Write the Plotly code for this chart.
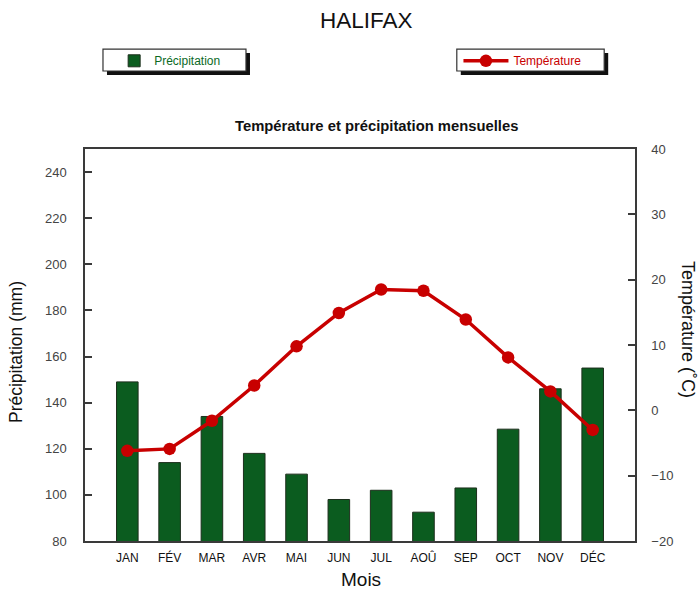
import plotly.graph_objects as go

months = ["JAN", "FÉV", "MAR", "AVR", "MAI", "JUN", "JUL", "AOÛ", "SEP", "OCT", "NOV", "DÉC"]
precip_mm = [149, 114, 134, 118, 109, 98, 102, 92.5, 103, 128.5, 146, 155]
temp_c = [-6.2, -5.9, -1.6, 3.8, 9.8, 14.9, 18.5, 18.3, 13.9, 8.1, 2.9, -3.0]

left_ticks = [80, 100, 120, 140, 160, 180, 200, 220, 240]
right_ticks = [-20, -10, 0, 10, 20, 30, 40]

FONT = "Liberation Sans, Arial, sans-serif"
GREEN = "#0b5c1f"
RED = "#c80000"

x_idx = list(range(len(months)))

fig = go.Figure()
fig.add_trace(go.Bar(
    x=x_idx, y=precip_mm, name="Précipitation",
    marker=dict(color=GREEN, line=dict(color="#1c2e1c", width=1)),
    legend="legend", yaxis="y",
))
fig.add_trace(go.Scatter(
    x=x_idx, y=temp_c, name="Température", mode="lines+markers",
    line=dict(color=RED, width=3.5),
    marker=dict(color=RED, size=12.5),
    legend="legend2", yaxis="y2",
))

axis_line = "#3a3a3a"
fig.update_layout(
    width=700, height=593,
    margin=dict(l=85, r=65, t=149, b=52, autoexpand=False),
    paper_bgcolor="white", plot_bgcolor="white",
    font=dict(family=FONT, color="#222"),
    bargap=0.49,
    showlegend=True,
    xaxis=dict(
        range=[-1, 12], tickvals=x_idx, ticktext=months,
        showgrid=False, zeroline=False, ticks="", automargin=False,
        ticklabelstandoff=5,
        showline=True, linecolor=axis_line, linewidth=1.5, mirror=True,
        tickfont=dict(size=12, color="#111"),
    ),
    yaxis=dict(
        range=[80, 250], tickvals=left_ticks, automargin=False,
        showgrid=False, zeroline=False,
        ticks="inside", ticklen=7, tickcolor=axis_line, tickwidth=1.5,
        ticklabelstandoff=14,
        showline=True, linecolor=axis_line, linewidth=1.5,
        tickfont=dict(size=13, color="#444"),
    ),
    yaxis2=dict(
        range=[-20, 40], tickvals=right_ticks, overlaying="y", side="right",
        showgrid=False, zeroline=False, automargin=False,
        ticks="inside", ticklen=7, tickcolor=axis_line, tickwidth=1.5,
        ticklabelstandoff=12,
        showline=True, linecolor=axis_line, linewidth=1.5,
        tickfont=dict(size=13, color="#444"),
    ),
    legend=dict(
        x=0.053, y=1.225, xanchor="left", yanchor="middle",
        bgcolor="rgba(0,0,0,0)", borderwidth=0,
        font=dict(size=12, color="#0b6a1f", family=FONT),
    ),
    legend2=dict(
        x=0.679, y=1.225, xanchor="left", yanchor="middle",
        bgcolor="rgba(0,0,0,0)", borderwidth=0, itemwidth=45,
        font=dict(size=12, color=RED, family=FONT),
    ),
)

# legend boxes with drop shadows
boxes = [(0.0327, 0.2927), (0.676, 0.944)]
y0, y1 = 1.199, 1.255
dx, dy = 4 / 550, 4 / 392
shapes = []
for bx0, bx1 in boxes:
    shapes.append(dict(type="rect", xref="paper", yref="paper",
                       x0=bx0 + dx, x1=bx1 + dx, y0=y0 - dy, y1=y1 - dy,
                       fillcolor="#111", line=dict(width=0), layer="below"))
    shapes.append(dict(type="rect", xref="paper", yref="paper",
                       x0=bx0, x1=bx1, y0=y0, y1=y1,
                       fillcolor="white", line=dict(color="#333", width=1.2), layer="below"))
fig.update_layout(shapes=shapes)

def px_x(px):
    return (px - 85) / 550

def px_y(py):
    return (541 - py) / 392

fig.add_annotation(text="HALIFAX", xref="paper", yref="paper", x=px_x(366), y=px_y(20),
                   showarrow=False, font=dict(size=22.5, color="#111", family=FONT), yanchor="middle")
fig.add_annotation(text="<b>Température et précipitation mensuelles</b>", xref="paper", yref="paper",
                   x=px_x(376), y=px_y(126), showarrow=False,
                   font=dict(size=14.8, color="#111", family=FONT), yanchor="middle")
fig.add_annotation(text="Précipitation (mm)", xref="paper", yref="paper",
                   x=px_x(16), y=px_y(352), textangle=-90, showarrow=False,
                   font=dict(size=17.5, color="#111", family=FONT), xanchor="center", yanchor="middle")
fig.add_annotation(text="Température (˚C)", xref="paper", yref="paper",
                   x=px_x(688), y=px_y(329), textangle=90, showarrow=False,
                   font=dict(size=18, color="#111", family=FONT), xanchor="center", yanchor="middle")
fig.add_annotation(text="Mois", xref="paper", yref="paper",
                   x=px_x(361), y=px_y(579), showarrow=False,
                   font=dict(size=19, color="#111", family=FONT), xanchor="center", yanchor="middle")

fig.write_html("out.html", config={"displayModeBar": False},
               post_script="document.body.style.margin='0';")
